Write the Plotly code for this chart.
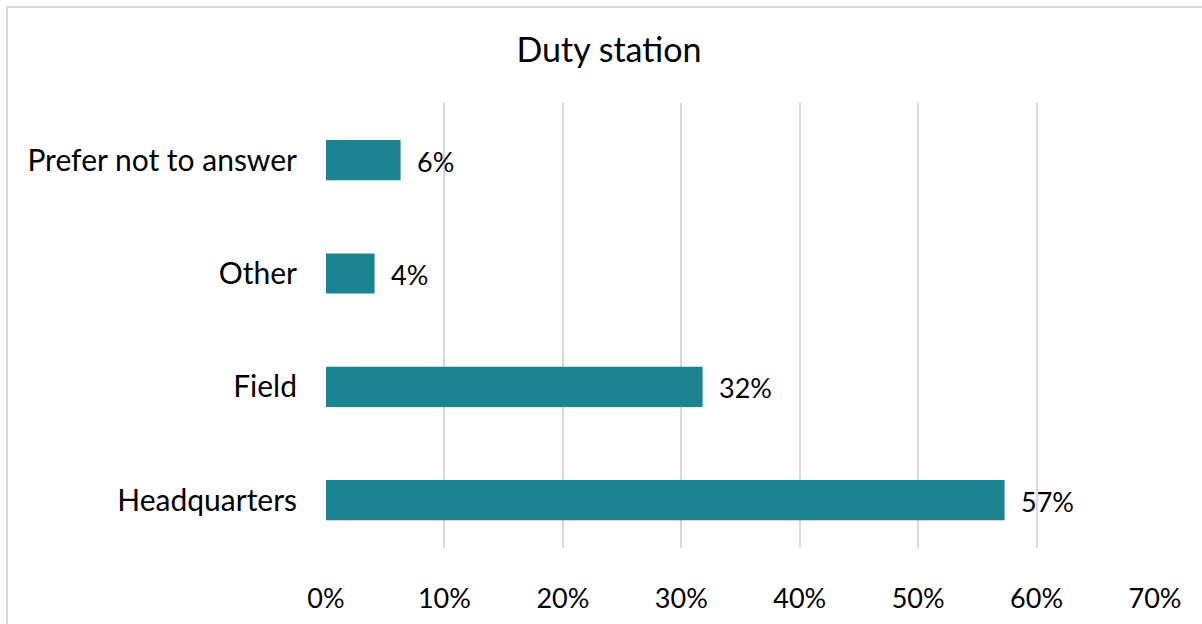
import plotly.graph_objects as go

# Survey responses by duty station (share of respondents)
categories = ["Headquarters", "Field", "Other", "Prefer not to answer"]
shares = [0.573, 0.318, 0.041, 0.063]
tick_values = [0, 0.1, 0.2, 0.3, 0.4, 0.5, 0.6, 0.7]
tick_labels = ["0%", "10%", "20%", "30%", "40%", "50%", "60%", "70%"]

W, H = 1202, 624
ML, MR, MT, MB = 326, 47, 103, 76
FONT = "Lato, 'Open Sans', sans-serif"
BAR_COLOR = "#1b8490"

fig = go.Figure(
    go.Bar(
        x=shares,
        y=categories,
        orientation="h",
        marker=dict(color=BAR_COLOR, line=dict(width=0)),
        width=0.354,
        hoverinfo="skip",
    )
)

# value labels to the right of each bar
for cat, val in zip(categories, shares):
    fig.add_annotation(
        x=val, y=cat, text=f"{val:.0%}", showarrow=False,
        xanchor="left", xshift=14, yshift=-1,
        font=dict(family=FONT, size=27, color="#000000"),
    )

plot_w = W - ML - MR
plot_h = H - MT - MB
# light outer frame around the chart
fig.add_shape(
    type="rect", xref="paper", yref="paper",
    x0=(7 - ML) / plot_w, x1=(W + 20 - ML) / plot_w,
    y0=-(MB + 20) / plot_h, y1=1 + (MT - 7) / plot_h,
    line=dict(color="#d9d9d9", width=2), fillcolor="rgba(0,0,0,0)", layer="below",
)

fig.update_layout(
    width=W, height=H,
    margin=dict(l=ML, r=MR, t=MT, b=MB),
    paper_bgcolor="white", plot_bgcolor="white",
    showlegend=False,
    title=dict(
        text="Duty station", x=609 / W, xref="container", xanchor="center",
        y=1 - 50 / H, yref="container", yanchor="middle",
        font=dict(family=FONT, size=34, color="#000000"),
    ),
    font=dict(family=FONT, size=30, color="#000000"),
    xaxis=dict(
        range=[0, 0.7], tickvals=tick_values, ticktext=tick_labels,
        tickfont=dict(size=27),
        showgrid=True, gridcolor="#d9d9d9", gridwidth=1.5,
        zeroline=False, showline=False, ticks="",
        ticklabelstandoff=32, fixedrange=True, automargin=False,
    ),
    yaxis=dict(
        range=[-0.422, 3.504], showgrid=False, zeroline=False,
        showline=False, ticks="", ticklabelstandoff=28, fixedrange=True,
        automargin=False,
    ),
)

fig.write_html("out.html")
